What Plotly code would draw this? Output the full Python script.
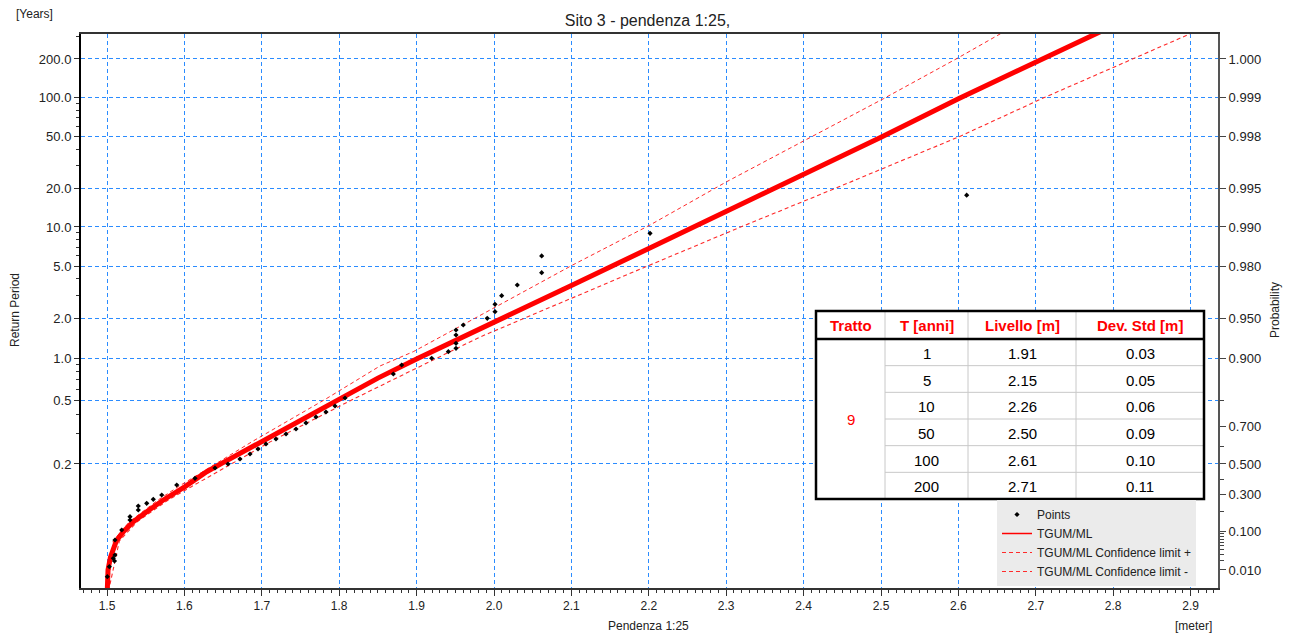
import math
import plotly.graph_objects as go

# ---------------- data ----------------
RATE = 10.0  # events per year used by the return-period axis

# fitted TGUM/ML curve: level [m] and return period [years]
fit_level = [1.5000, 1.5013, 1.5044, 1.5078, 1.5121, 1.5211, 1.5340, 1.5513, 1.5728,
             1.6008, 1.6288, 1.6500, 1.7000, 1.7500, 1.8000, 1.8500, 1.9019, 2.0000,
             2.1000, 2.2000, 2.3000, 2.4000, 2.5000, 2.6000, 2.7000, 2.7900]
fit_T = [0.10005, 0.10101, 0.10261, 0.10416, 0.10694, 0.11086, 0.11671, 0.12452, 0.13652,
         0.15468, 0.18225, 0.20329, 0.26983, 0.37161, 0.51361, 0.7199, 1.0037, 1.882,
         3.549, 6.82, 13.12, 25.45, 49.45, 98.3, 191.0, 340.0]

# confidence limit +
up_level = [1.5000, 1.5080, 1.5290, 1.5660, 1.5920, 1.6880, 1.7830, 1.8527, 1.8957,
            1.9603, 1.9819, 2.1017, 2.2016, 2.3006, 2.4096, 2.5030, 2.5970, 2.6700]
up_T = [0.10005, 0.10694, 0.11671, 0.13652, 0.15468, 0.26983, 0.51361, 0.8814, 1.123,
        1.777, 2.097, 5.096, 10.357, 22.38, 49.5, 98.3, 200.0, 355.0]

# confidence limit -
lo_level = [1.5000, 1.5160, 1.5390, 1.5790, 1.6090, 1.7120, 1.8190, 1.8527, 1.9819,
            2.2016, 2.3178, 2.4419, 2.6012, 2.7102, 2.8265, 2.8992, 2.9200]
lo_T = [0.10005, 0.10694, 0.11671, 0.13652, 0.15468, 0.26983, 0.51361, 0.6324, 1.4445,
        5.096, 9.942, 20.0, 50.0, 100.0, 200.0, 312.6, 355.0]

# observed points
pts_level = [1.5004, 1.5030, 1.5081, 1.5097, 1.5103, 1.5103, 1.5190, 1.5297, 1.5297, 1.5404,
             1.5404, 1.5513, 1.5598, 1.5707, 1.5901, 1.6137, 1.6395, 1.6563, 1.6718, 1.6848,
             1.6951, 1.7054, 1.7183, 1.7313, 1.7442, 1.7571, 1.7700, 1.7829, 1.7946, 1.8075,
             1.8699, 1.8807, 1.9195, 1.9410, 1.9509, 1.9509, 1.9509, 1.9509, 1.9603, 1.9913,
             2.0013, 2.0013, 2.0099, 2.0301, 2.0616, 2.0616, 2.2016, 2.6107]
pts_T = [0.10056, 0.10132, 0.10244, 0.10202, 0.10304, 0.10724, 0.11173, 0.12036, 0.11790, 0.12605,
         0.12994, 0.13277, 0.13734, 0.14272, 0.15738, 0.16906, 0.19044, 0.19996, 0.21295, 0.22722,
         0.24295, 0.26021, 0.27910, 0.29985, 0.32258, 0.35286, 0.38640, 0.41736, 0.45851, 0.52056,
         0.7711, 0.896, 1.004, 1.123, 1.190, 1.296, 1.495, 1.630, 1.777, 1.997,
         2.241, 2.550, 2.965, 3.579, 4.449, 5.976, 8.93, 17.6]

# axis ticks
x_ticks = [1.5, 1.6, 1.7, 1.8, 1.9, 2.0, 2.1, 2.2, 2.3, 2.4, 2.5, 2.6, 2.7, 2.8, 2.9]
T_ticks = [200, 100, 50, 20, 10, 5, 2, 1, 0.5, 0.2]
T_labels = ["200.0", "100.0", "50.0", "20.0", "10.0", "5.0", "2.0", "1.0", "0.5", "0.2"]
T_minor = [300, 90, 80, 70, 60, 40, 30, 9, 8, 7, 6, 4, 3, 0.9, 0.8, 0.7, 0.6, 0.4, 0.3]
P_ticks = [0.9995, 0.999, 0.998, 0.995, 0.99, 0.98, 0.95, 0.9, 0.7, 0.5, 0.3, 0.1, 0.01]
P_labels = ["1.000", "0.999", "0.998", "0.995", "0.990", "0.980", "0.950", "0.900",
            "0.700", "0.500", "0.300", "0.100", "0.010"]
P_minor = [0.8, 0.6, 0.4, 0.2, 0.09, 0.08, 0.07, 0.06, 0.05, 0.04, 0.03, 0.02]

# table
table_header = ["Tratto", "T [anni]", "Livello [m]", "Dev. Std [m]"]
table_tratto = "9"
table_T = ["1", "5", "10", "50", "100", "200"]
table_level = ["1.91", "2.15", "2.26", "2.50", "2.61", "2.71"]
table_std = ["0.03", "0.05", "0.06", "0.09", "0.10", "0.11"]

# ---------------- scales (Gumbel probability paper) ----------------
def p_to_y(p):
    return -math.log(-math.log(p))

def t_to_y(t):
    return p_to_y(1.0 - 1.0 / (RATE * t))

FONT = "Liberation Sans, Arial, sans-serif"
W, H = 1295, 635
ML, MR, MT, MB = 81, 77, 34, 47
PW, PH = W - ML - MR, H - MT - MB

def xp(px):
    return (px - ML) / PW

def yp(py):
    return (H - MB - py) / PH

Y_RANGE = [-1.849, 8.047]
X_RANGE = [1.4664, 2.9354]

fig = go.Figure()

conf_up_style = dict(color="#ff2a2a", width=1, dash="4px,3px")
conf_lo_style = dict(color="#ff2a2a", width=1.1, dash="4px,3px")
fig.add_trace(go.Scatter(x=up_level, y=[t_to_y(t) for t in up_T], mode="lines",
                         line=conf_up_style, name="TGUM/ML Confidence limit +",
                         legendrank=3, hoverinfo="skip"))
fig.add_trace(go.Scatter(x=lo_level, y=[t_to_y(t) for t in lo_T], mode="lines",
                         line=conf_lo_style, name="TGUM/ML Confidence limit -",
                         legendrank=4, hoverinfo="skip"))
fig.add_trace(go.Scatter(x=fit_level, y=[t_to_y(t) for t in fit_T], mode="lines",
                         line=dict(color="#ff0000", width=5), name="TGUM/ML",
                         showlegend=False, hoverinfo="skip"))
# legend entry for the fitted curve (thin line sample, as in the reference)
fig.add_trace(go.Scatter(x=[None], y=[None], mode="lines",
                         line=dict(color="#ff0000", width=1.5), name="TGUM/ML",
                         legendrank=2, hoverinfo="skip"))
fig.add_trace(go.Scatter(x=pts_level, y=[t_to_y(t) for t in pts_T], mode="markers",
                         marker=dict(symbol="diamond", size=4, color="#000000"),
                         name="Points", legendrank=1))
# carrier for the right (probability) axis
fig.add_trace(go.Scatter(x=[None], y=[None], yaxis="y2", showlegend=False,
                         hoverinfo="skip"))

grid_color = "#2b8cff"
fig.update_layout(
    width=W, height=H,
    margin=dict(l=ML, r=MR, t=MT, b=MB),
    paper_bgcolor="white", plot_bgcolor="white",
    font=dict(family=FONT, size=12, color="#222222"),
    title=dict(text="Sito 3 - pendenza 1:25,", x=0.5, xanchor="center",
               y=1 - 20 / H, yanchor="middle", font=dict(size=16, color="#222222")),
    xaxis=dict(range=X_RANGE, tickmode="array", tickvals=x_ticks,
               ticktext=[f"{v:.1f}" for v in x_ticks],
               ticks="outside", ticklen=6, tickcolor="#333333",
               showline=True, linecolor="#333333", linewidth=2, mirror=True,
               showgrid=True, gridcolor=grid_color, griddash="4px,3px", gridwidth=1,
               zeroline=False, tickfont=dict(size=12, color="#222222"),
               minor=dict(tickmode="linear", tick0=1.5, dtick=0.01, ticks="outside",
                          ticklen=3, tickcolor="#333333", showgrid=False)),
    yaxis=dict(range=Y_RANGE, tickmode="array", tickvals=[t_to_y(t) for t in T_ticks],
               ticktext=T_labels, ticks="outside", ticklen=5, tickcolor="#333333",
               showline=True, linecolor="#000000", linewidth=2,
               showgrid=True, gridcolor=grid_color, griddash="4px,3px", gridwidth=1,
               zeroline=False, tickfont=dict(size=13, color="#222222"),
               minor=dict(tickmode="array", tickvals=[t_to_y(t) for t in T_minor],
                          ticks="outside", ticklen=3, tickcolor="#333333",
                          showgrid=False)),
    yaxis2=dict(range=Y_RANGE, overlaying="y", side="right", tickmode="array",
                tickvals=[p_to_y(p) for p in P_ticks], ticktext=P_labels,
                ticks="outside", ticklen=6, tickcolor="#444444",
                showline=True, linecolor="#555555", linewidth=2,
                showgrid=False, zeroline=False, tickfont=dict(size=13, color="#222222"),
                minor=dict(tickmode="array", tickvals=[p_to_y(p) for p in P_minor],
                           ticks="outside", ticklen=4, tickcolor="#444444",
                           showgrid=False)),
    showlegend=True,
    legend=dict(x=xp(997), y=yp(500), xanchor="left", yanchor="top",
                bgcolor="#ebebeb", borderwidth=0, font=dict(size=12, color="#222222"),
                tracegroupgap=0, itemwidth=30, traceorder="normal"),
)

annotations = [
    dict(text="[Years]", x=xp(14), y=yp(14), xanchor="left", yanchor="middle"),
    dict(text="Return Period", x=xp(15), y=yp(310), textangle=-90,
         xanchor="center", yanchor="middle"),
    dict(text="Probability", x=xp(1275), y=yp(310), textangle=-90,
         xanchor="center", yanchor="middle"),
    dict(text="Pendenza 1:25", x=xp(648), y=yp(626), xanchor="center", yanchor="middle"),
    dict(text="[meter]", x=xp(1193), y=yp(626), xanchor="center", yanchor="middle"),
]
for a in annotations:
    a.update(xref="paper", yref="paper", showarrow=False,
             font=dict(family=FONT, size=12, color="#222222"))

# ---------------- table (shapes + text) ----------------
col_edges = [816, 885, 968, 1076, 1204]
tbl_top, hdr_bottom, tbl_bottom = 311, 339, 499
row_h = (tbl_bottom - hdr_bottom) / len(table_T)

shapes = []
def rect(x0, y0, x1, y1, **kw):
    shapes.append(dict(type="rect", xref="paper", yref="paper", x0=xp(x0), x1=xp(x1),
                       y0=yp(y1), y1=yp(y0), layer="above", **kw))

def seg(x0, y0, x1, y1, color, width):
    shapes.append(dict(type="line", xref="paper", yref="paper", x0=xp(x0), x1=xp(x1),
                       y0=yp(y0), y1=yp(y1), layer="above",
                       line=dict(color=color, width=width)))

rect(col_edges[0], tbl_top, col_edges[-1], tbl_bottom, fillcolor="white",
     line=dict(width=0))
for cx in col_edges[1:-1]:
    seg(cx, tbl_top, cx, tbl_bottom, "#c8c8c8", 1)
for i in range(1, len(table_T)):
    yy = hdr_bottom + i * row_h
    seg(col_edges[1], yy, col_edges[-1], yy, "#c8c8c8", 1)
seg(col_edges[0], hdr_bottom, col_edges[-1], hdr_bottom, "#000000", 2.5)
rect(col_edges[0], tbl_top, col_edges[-1], tbl_bottom, fillcolor="rgba(0,0,0,0)",
     line=dict(color="#000000", width=2.5))

def cell_text(text, c, yc, color, bold=False):
    annotations.append(dict(
        text=f"<b>{text}</b>" if bold else text,
        x=xp((col_edges[c] + col_edges[c + 1]) / 2), y=yp(yc),
        xref="paper", yref="paper", showarrow=False, xanchor="center", yanchor="middle",
        font=dict(family=FONT, size=15, color=color)))

for c, h in enumerate(table_header):
    cell_text(h, c, (tbl_top + hdr_bottom) / 2 + 1, "#ff0000", bold=True)
cell_text(table_tratto, 0, (hdr_bottom + tbl_bottom) / 2, "#ff0000")
for i in range(len(table_T)):
    yc = hdr_bottom + (i + 0.5) * row_h + 1
    cell_text(table_T[i], 1, yc, "#000000")
    cell_text(table_level[i], 2, yc, "#000000")
    cell_text(table_std[i], 3, yc, "#000000")

fig.update_layout(shapes=shapes, annotations=annotations)

fig.write_html("out.html", config={"displayModeBar": False},
               post_script="document.body.style.margin='0';document.body.style.overflow='hidden';")
